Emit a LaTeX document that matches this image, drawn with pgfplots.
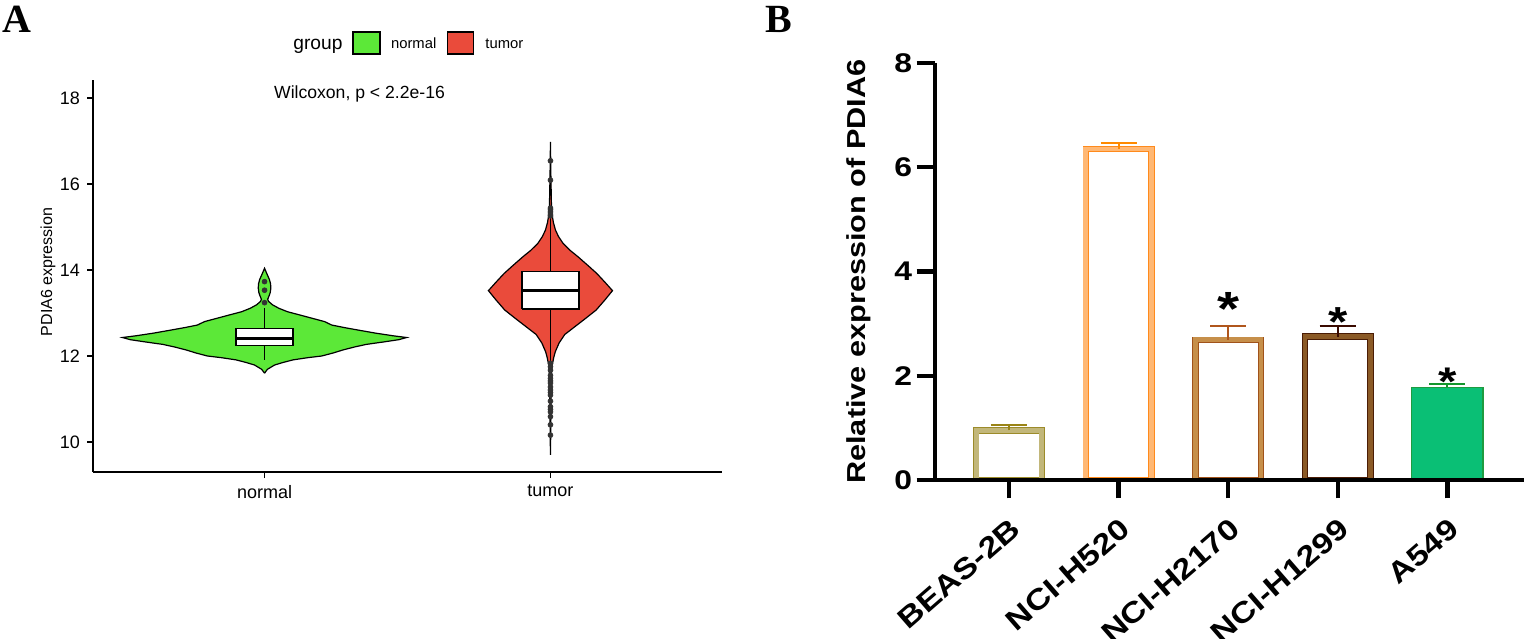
\documentclass[border=0pt]{standalone}
\usepackage{pgfplots}
\pgfplotsset{compat=1.18}
\usepackage{fontspec}
\setmainfont{Liberation Sans}
\newfontfamily\bfont{Liberation Sans}[FakeStretch=1.18]
\newfontfamily\lab{Liberation Serif}
\definecolor{ngreen}{HTML}{5CE838}
\definecolor{tred}{HTML}{EA4B3B}
\definecolor{ptgray}{HTML}{333333}
\definecolor{beasC}{HTML}{C2B77A}
\definecolor{beasE}{HTML}{9C8B2A}
\definecolor{beasErr}{HTML}{9A8416}
\definecolor{hfiveC}{HTML}{FFB874}
\definecolor{hfiveE}{HTML}{FF8A1C}
\definecolor{hfiveErr}{HTML}{FF8A00}
\definecolor{htwoC}{HTML}{C68F4A}
\definecolor{htwoE}{HTML}{A0521A}
\definecolor{htwoErr}{HTML}{B0561C}
\definecolor{honeC}{HTML}{8B5A26}
\definecolor{honeE}{HTML}{4A1C05}
\definecolor{honeErr}{HTML}{3A0A00}
\definecolor{aC}{HTML}{0ABF75}
\definecolor{aE}{HTML}{1E9C40}
\definecolor{aErr}{HTML}{14962C}
\begin{document}
\begin{tikzpicture}
\useasboundingbox (0,0) rectangle (762pt,319pt);
% ---------------- Panel A ----------------
\begin{axis}[
 name=A, at={(46.5pt,83pt)}, anchor=south west, scale only axis,
 width=314.5pt, height=196pt,
 xmin=0.4, xmax=2.6, ymin=9.302, ymax=18.419,
 axis x line*=bottom, axis y line*=left,
 axis line style={line width=0.7pt,-},
 xtick={1,2}, xticklabels={normal,tumor}, ytick={10,12,14,16,18},
 tick align=outside, major tick length=3pt,
 tick style={line width=0.7pt, black},
 ticklabel style={font=\fontsize{9}{9}\selectfont},
 /pgf/number format/assume math mode=true,
 ylabel={PDIA6 expression},
 ylabel style={font=\fontsize{8}{8}\selectfont, at={(axis description cs:-0.0715,0.51)}, anchor=center},
]
% normal violin
\addplot[fill=ngreen, draw=black, line width=0.6pt] coordinates {
(1,11.60) (1.01,11.69) (1.035,11.79) (1.065,11.85) (1.10,11.91) (1.15,11.96) (1.20,12.00) (1.24,12.07) (1.274,12.14) (1.315,12.21) (1.356,12.27) (1.42,12.33) (1.47,12.38) (1.497,12.43) (1.45,12.47) (1.39,12.53) (1.33,12.60) (1.28,12.66) (1.235,12.72) (1.21,12.80) (1.165,12.88) (1.12,12.96) (1.08,13.03) (1.05,13.11) (1.028,13.19) (1.014,13.27) (1.011,13.32) (1.016,13.40) (1.02,13.48) (1.022,13.58) (1.021,13.68) (1.017,13.78) (1.009,13.90) (1,14.04)
(0.991,13.90) (0.983,13.78) (0.979,13.68) (0.978,13.58) (0.98,13.48) (0.984,13.40) (0.989,13.32) (0.986,13.27) (0.972,13.19) (0.95,13.11) (0.92,13.03) (0.88,12.96) (0.835,12.88) (0.79,12.80) (0.765,12.72) (0.72,12.66) (0.67,12.60) (0.61,12.53) (0.55,12.47) (0.503,12.43) (0.53,12.38) (0.58,12.33) (0.644,12.27) (0.685,12.21) (0.726,12.14) (0.76,12.07) (0.80,12.00) (0.85,11.96) (0.90,11.91) (0.935,11.85) (0.965,11.79) (0.99,11.69) (1,11.60)};
% tumor violin
\addplot[fill=tred, draw=black, line width=0.6pt] coordinates {
(2,9.70) (2.0015,10.5) (2.003,11.5) (2.005,11.75) (2.012,11.98) (2.017,12.10) (2.03,12.30) (2.05,12.50) (2.085,12.68) (2.124,12.88) (2.16,13.07) (2.19,13.30) (2.217,13.52) (2.19,13.72) (2.162,13.92) (2.132,14.10) (2.096,14.31) (2.07,14.45) (2.044,14.62) (2.028,14.78) (2.0175,14.93) (2.0105,15.10) (2.007,15.24) (2.0035,15.50) (2.0015,16.20) (2,16.98)
(1.9985,16.20) (1.9965,15.50) (1.993,15.24) (1.9895,15.10) (1.9825,14.93) (1.972,14.78) (1.956,14.62) (1.93,14.45) (1.904,14.31) (1.868,14.10) (1.838,13.92) (1.81,13.72) (1.783,13.52) (1.81,13.30) (1.84,13.07) (1.876,12.88) (1.915,12.68) (1.95,12.50) (1.97,12.30) (1.983,12.10) (1.988,11.98) (1.995,11.75) (1.997,11.5) (1.9985,10.5) (2,9.70)};
% whiskers
\addplot[black, line width=0.6pt] coordinates {(1,11.91) (1,13.12)};
\addplot[black, line width=0.6pt] coordinates {(2,11.80) (2,15.30)};
% boxes
\addplot[fill=white, draw=black, line width=0.7pt] coordinates {(0.9,12.24) (1.1,12.24) (1.1,12.64) (0.9,12.64) (0.9,12.24)};
\addplot[black, line width=1.3pt] coordinates {(0.9,12.41) (1.1,12.41)};
\addplot[fill=white, draw=black, line width=0.7pt] coordinates {(1.9,13.09) (2.1,13.09) (2.1,13.96) (1.9,13.96) (1.9,13.09)};
\addplot[black, line width=1.3pt] coordinates {(1.9,13.52) (2.1,13.52)};
% outliers
\addplot[only marks, mark=*, mark size=1.2pt, mark options={fill=ptgray, draw=ptgray}] coordinates {
(1,13.24) (1,13.53) (1,13.73)
(2,16.54) (2,16.09) (2,15.44) (2,15.40) (2,15.35) (2,15.30) (2,15.26)
(2,11.83) (2,11.75) (2,11.67) (2,11.55) (2,11.48) (2,11.42) (2,11.37) (2,11.28) (2,11.21) (2,11.15) (2,11.09) (2,10.95) (2,10.82) (2,10.76) (2,10.70) (2,10.59) (2,10.40) (2,10.16)};
\end{axis}
% legend and annotations A
\node[anchor=base west, inner sep=0pt, font=\fontsize{9.6}{9.6}\selectfont] at (146.5pt,294pt) {group};
\draw[fill=ngreen, draw=black, line width=0.8pt] (176.35pt,292pt) rectangle (190pt,303pt);
\node[anchor=base west, inner sep=0pt, font=\fontsize{7.4}{7.4}\selectfont] at (195.35pt,294.5pt) {normal};
\draw[fill=tred, draw=black, line width=0.8pt] (223.65pt,292pt) rectangle (236.65pt,303pt);
\node[anchor=base west, inner sep=0pt, font=\fontsize{7.4}{7.4}\selectfont] at (242.5pt,294.5pt) {tumor};
\node[anchor=base, inner sep=0pt, font=\fontsize{8.8}{8.8}\selectfont] at (179.75pt,269.5pt) {Wilcoxon, p < 2.2e-16};
\node[anchor=base west, inner sep=0pt, font=\lab\bfseries\fontsize{20}{20}\selectfont] at (1pt,302.5pt) {A};
\node[anchor=base west, inner sep=0pt, font=\lab\bfseries\fontsize{20}{20}\selectfont] at (382.5pt,302.5pt) {B};
% ---------------- Panel B ----------------
\begin{axis}[
 name=B, at={(467.5pt,79pt)}, anchor=south west, scale only axis,
 width=294.5pt, height=208.5pt,
 xmin=-0.675, xmax=4.7, ymin=0, ymax=8,
 axis x line*=bottom, axis y line*=left,
 axis line style={line width=2.2pt,-},
 axis on top,
 xtick={0,1,2,3,4}, xticklabels={BEAS-2B,NCI-H520,NCI-H2170,NCI-H1299,A549},
 ytick={0,2,4,6,8},
 tick align=outside, major tick length=9.2pt,
 tick style={line width=2.2pt, black},
 ticklabel style={font=\bfont\bfseries\fontsize{13.5}{13.5}\selectfont},
 /pgf/number format/assume math mode=true,
 xticklabel style={yshift=-9pt, rotate=41, anchor=north east, inner sep=0pt,
   font=\bfont\bfseries\fontsize{14.5}{14.5}\selectfont},
 yticklabel style={inner sep=2pt},
 ylabel={Relative expression of PDIA6},
 ylabel style={font=\bfont\bfseries\fontsize{13}{13}\selectfont, at={(axis description cs:-0.129,0.5)}, anchor=center},
]
\addplot[ybar, bar shift=0pt, bar width=0.599, fill=white, draw=beasE, line width=3.2pt] coordinates {(0,0.95)};
\addplot[ybar, bar shift=0pt, bar width=0.599, draw=beasC, line width=2.4pt,
 error bars/.cd, y dir=plus, y explicit, error bar style={beasErr, line width=1pt},
 error mark options={beasErr, line width=1pt, mark size=9pt, rotate=90}] coordinates {(0,0.95) +- (0,0.11)};
\addplot[ybar, bar shift=0pt, bar width=0.599, fill=white, draw=hfiveE, line width=3.2pt] coordinates {(1,6.35)};
\addplot[ybar, bar shift=0pt, bar width=0.599, draw=hfiveC, line width=2.4pt,
 error bars/.cd, y dir=plus, y explicit, error bar style={hfiveErr, line width=1pt},
 error mark options={hfiveErr, line width=1pt, mark size=9pt, rotate=90}] coordinates {(1,6.35) +- (0,0.11)};
\addplot[ybar, bar shift=0pt, bar width=0.599, fill=white, draw=htwoE, line width=3.2pt] coordinates {(2,2.69)};
\addplot[ybar, bar shift=0pt, bar width=0.599, draw=htwoC, line width=2.4pt,
 error bars/.cd, y dir=plus, y explicit, error bar style={htwoErr, line width=1pt},
 error mark options={htwoErr, line width=1pt, mark size=9pt, rotate=90}] coordinates {(2,2.69) +- (0,0.26)};
\addplot[ybar, bar shift=0pt, bar width=0.599, fill=white, draw=honeE, line width=3.2pt] coordinates {(3,2.75)};
\addplot[ybar, bar shift=0pt, bar width=0.599, draw=honeC, line width=2.4pt,
 error bars/.cd, y dir=plus, y explicit, error bar style={honeErr, line width=1pt},
 error mark options={honeErr, line width=1pt, mark size=9pt, rotate=90}] coordinates {(3,2.75) +- (0,0.20)};
\addplot[ybar, bar shift=0pt, bar width=0.65, fill=aC, draw=aE, line width=0.6pt,
 error bars/.cd, y dir=plus, y explicit, error bar style={aErr, line width=1pt},
 error mark options={aErr, line width=1pt, mark size=9pt, rotate=90}] coordinates {(4,1.78) +- (0,0.07)};
\node[anchor=base, inner sep=0pt, font=\bfont\bfseries\fontsize{24}{24}\selectfont] at (axis cs:2,2.97) {*};
\node[anchor=base, inner sep=0pt, font=\bfont\bfseries\fontsize{21}{21}\selectfont] at (axis cs:3,2.76) {*};
\node[anchor=base, inner sep=0pt, font=\bfont\bfseries\fontsize{20}{20}\selectfont] at (axis cs:4,1.63) {*};
\end{axis}
\end{tikzpicture}
\end{document}
